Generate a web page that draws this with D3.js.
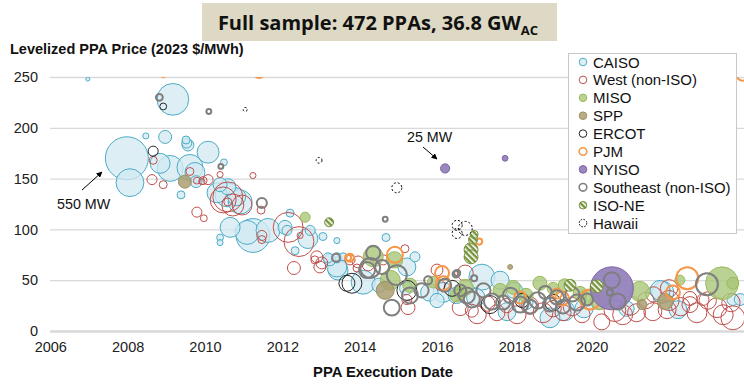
<!DOCTYPE html>
<html><head><meta charset="utf-8">
<script src="https://cdn.jsdelivr.net/npm/d3@7"></script>
<style>body{margin:0;background:#fff}svg{display:block}text{font-family:"Liberation Sans",Arial,sans-serif}</style>
</head><body><svg id="c" width="744" height="392"></svg>
<script>
// [execution date (decimal year), levelized price (2023 $/MWh), capacity (MW)]
const caiso = [[2006.97,248,5],[2009.17,228,300],[2008.47,192,11],[2008.97,191,50],[2009.53,185,30],[2009.56,183,42],[2009.51,188,19],[2010.08,176,143],[2007.98,170,550],[2008.06,146,230],[2009.10,160,200],[2008.84,165,118],[2009.61,161,200],[2009.74,156,118],[2009.77,147,42],[2009.38,134,19],[2010.49,166,14],[2010.39,144,58],[2010.59,142,76],[2010.57,134,170],[2010.82,132,96],[2010.65,102,118],[2011.09,97,170],[2010.39,92,14],[2010.39,87,11],[2010.31,136,118],[2010.91,127,170],[2011.24,94,340],[2011.63,99,170],[2012.20,116,19],[2012.07,102,58],[2012.12,99,30],[2012.66,91,118],[2012.72,99,30],[2013.05,93,19],[2013.41,89,11],[2012.33,79,19],[2013.18,72,30],[2013.41,72,30],[2013.57,73,19],[2013.44,60,118],[2013.23,70,42],[2013.41,63,118],[2014.09,48,170],[2014.68,92,19],[2015.22,63,96],[2015.43,73,30],[2016.16,38,118],[2017.16,53,200],[2017.63,50,96],[2017.81,19,96],[2018.92,13,118],[2021.77,40,118],[2021.84,38,143],[2022.23,21,96],[2023.65,31,42],[2023.84,31,42],[2019.3,20,120],[2018.3,28,60],[2016.5,35,80],[2016.0,30,60],[2020.9,22,70],[2015.2,42,50],[2015.8,38,90],[2017.0,33,100],[2018.0,40,80],[2019.8,22,100],[2014.5,45,60]];
const westNonIso = [[2008.66,168,19],[2008.63,149,30],[2008.92,144,19],[2009.61,157,19],[2009.79,148,14],[2009.95,148,19],[2010.08,149,30],[2009.92,147,11],[2010.39,154,11],[2011.24,153,11],[2010.47,129,200],[2010.72,124,143],[2010.59,127,19],[2009.79,117,30],[2009.97,111,14],[2010.59,132,266],[2010.96,124,118],[2011.45,119,19],[2011.47,94,30],[2011.47,90,19],[2012.15,102,266],[2012.43,88,266],[2012.46,94,11],[2012.30,62,50],[2012.89,73,42],[2012.97,63,42],[2012.84,70,19],[2013.02,67,42],[2013.75,70,30],[2013.96,68,42],[2013.93,62,19],[2014.22,65,42],[2014.61,70,30],[2015.17,81,19],[2015.22,31,30],[2015.25,23,58],[2016.08,45,30],[2016.0,60,42],[2016.73,57,76],[2016.60,23,76],[2017.04,16,96],[2017.55,18,76],[2018.07,16,96],[2018.74,18,118],[2019.26,18,76],[2019.75,16,76],[2020.26,9,76],[2020.80,16,118],[2021.16,18,96],[2021.58,19,96],[2021.95,21,96],[2022.54,26,76],[2022.72,18,118],[2023.24,23,118],[2023.40,16,118],[2023.65,13,170],[2022.54,32,58],[2022.88,31,42],[2018.4,25,90],[2019.0,22,80],[2019.5,24,100],[2020.6,20,140],[2021.0,25,110],[2021.4,30,80],[2022.0,30,120],[2022.3,24,100],[2023.0,30,90],[2023.6,28,100],[2017.3,27,70],[2017.8,25,60],[2016.9,20,50],[2020.2,28,60],[2022.0,42,90],[2021.6,36,70]];
const miso = [[2012.59,112,30],[2014.35,73,118],[2014.79,50,118],[2016.73,43,76],[2017.63,40,58],[2017.97,43,58],[2018.66,47,58],[2019.0,42,42],[2019.70,37,58],[2021.24,39,118],[2022.28,50,30],[2023.37,47,320],[2023.65,47,42],[2014.9,70,80],[2015.3,45,60],[2016.6,38,60],[2019.86,33,80],[2020.2,30,100],[2016.5,35,50],[2018.3,35,60],[2019.3,45,50],[2015.9,48,40]];
const spp = [[2009.48,147,50],[2014.66,40,96],[2017.89,63,7],[2021.90,29,76],[2021.30,26,30]];
const ercot = [[2008.92,221,14],[2008.66,177,30],[2013.67,47,76],[2013.80,47,118],[2015.22,40,118],[2016.39,42,76],[2017.37,26,96],[2019.0,28,80],[2018.2,30,60]];
const pjm = [[2008.92,254,19],[2011.40,254,30],[2013.70,72,11],[2013.75,72,19],[2014.91,75,76],[2016.13,57,58],[2016.16,47,58],[2017.09,88,11],[2018.15,33,42],[2019.10,37,30],[2019.23,32,58],[2019.96,31,118],[2022.47,52,143],[2022.10,38,58],[2023.9,252,40]];
const nyiso = [[2016.21,160,25],[2017.76,170,10],[2020.52,42,550]];
const southeast = [[2008.82,230,14],[2010.10,216,7],[2010.41,162,7],[2011.47,126,30],[2013.39,72,19],[2014.35,77,58],[2014.27,62,118],[2014.19,60,76],[2014.58,63,58],[2014.96,55,118],[2014.66,110,7],[2014.83,23,76],[2015.30,35,76],[2015.77,50,19],[2016.52,57,11],[2016.77,35,76],[2016.49,56,14],[2016.96,52,11],[2016.60,40,42],[2016.90,31,76],[2017.42,29,76],[2017.71,28,58],[2018.15,26,76],[2018.41,24,58],[2018.92,26,58],[2019.26,24,58],[2019.62,28,76],[2019.88,31,42],[2020.52,50,76],[2020.67,29,76],[2020.47,38,11],[2022.98,46,143],[2017.2,40,60],[2018.8,38,50],[2019.5,36,60],[2015.6,40,60],[2016.2,45,50],[2017.9,35,70],[2018.6,30,80],[2019.1,33,60]];
const isoNe = [[2013.21,107,24],[2016.96,95,19],[2016.93,90,24],[2016.88,80,58],[2016.88,73,58],[2019.44,45,42],[2020.13,44,50]];
const hawaii = [[2011.04,218,5],[2012.95,168,10],[2014.96,141,30],[2016.52,104,30],[2016.73,101,58],[2016.52,96,30]];

const regionNames = ["CAISO","West (non-ISO)","MISO","SPP","ERCOT","PJM","NYISO","Southeast (non-ISO)","ISO-NE","Hawaii"];
const regionData = [caiso, westNonIso, miso, spp, ercot, pjm, nyiso, southeast, isoNe, hawaii];
const xTicks = [2006,2008,2010,2012,2014,2016,2018,2020,2022];
const yTicks = [0,50,100,150,200,250];

const styles = [
  {fill:"#d2eaf2", fo:0.75, stroke:"#4bacc6", sw:1},
  {fill:"none", fo:0, stroke:"#c0504d", sw:1},
  {fill:"#a9c779", fo:0.8, stroke:"#9bbb59", sw:1},
  {fill:"#ac9f72", fo:0.85, stroke:"#9c8f62", sw:1},
  {fill:"none", fo:0, stroke:"#262626", sw:1},
  {fill:"none", fo:0, stroke:"#f79646", sw:2},
  {fill:"#9582bd", fo:0.95, stroke:"#7f64a2", sw:1},
  {fill:"none", fo:0, stroke:"#7f7f7f", sw:2},
  {fill:"url(#stripes)", fo:1, stroke:"#77933c", sw:1},
  {fill:"none", fo:0, stroke:"#000", sw:1, dash:"2,2"}
];

const svg = d3.select("#c");
const defs = svg.append("defs");
const pat = defs.append("pattern").attr("id","stripes").attr("patternUnits","userSpaceOnUse")
  .attr("width",4).attr("height",4).attr("patternTransform","rotate(-45)");
pat.append("rect").attr("width",4).attr("height",4).attr("fill","#77933c");
pat.append("rect").attr("width",1.6).attr("height",4).attr("fill","#fff");
defs.append("clipPath").attr("id","plot").append("rect").attr("x",50).attr("y",77).attr("width",700).attr("height",260);
defs.append("marker").attr("id","arr").attr("viewBox","0 0 10 10").attr("refX",9).attr("refY",5)
  .attr("markerWidth",6).attr("markerHeight",6).attr("orient","auto")
  .append("path").attr("d","M0,0L10,5L0,10z").attr("fill","#000");

const x = d3.scaleLinear().domain([2006,2024]).range([50.3,746.4]);
const y = d3.scaleLinear().domain([0,250]).range([331,77]);
const r = d3.scaleSqrt().domain([0,550]).range([0,21.5]);

// title box
svg.append("rect").attr("x",202).attr("y",3).attr("width",355).attr("height",38).attr("fill","#ddd9c4");
const tt = svg.append("text").attr("x",378).attr("y",30).attr("text-anchor","middle")
  .style("font-family","'Open Sans',sans-serif").style("font-weight","700").style("font-size","20px").attr("fill","#111");
tt.append("tspan").text("Full sample: 472 PPAs, 36.8 GW");
tt.append("tspan").attr("dy",5).style("font-size","13px").text("AC");

svg.append("text").attr("x",10).attr("y",54).style("font-weight","bold").style("font-size","14.5px").attr("fill","#111")
  .text("Levelized PPA Price (2023 $/MWh)");

// grid + axes
const gy = svg.append("g").attr("transform","translate(50,0)")
  .call(d3.axisLeft(y).tickValues(yTicks).tickSize(-700).tickPadding(12));
gy.select(".domain").remove();
gy.selectAll(".tick line").attr("stroke","#d9d9d9").attr("stroke-width",d=>d===0?2.5:1.3);
gy.selectAll(".tick text").style("font-size","14.5px").attr("fill","#222").style("font-family","'Liberation Sans',Arial");

const gx = svg.append("g").attr("transform","translate(0,331)")
  .call(d3.axisBottom(x).tickValues(xTicks).tickFormat(d3.format("d")).tickSize(0).tickPadding(11));
gx.select(".domain").remove();
gx.selectAll(".tick text").style("font-size","14.5px").attr("fill","#222").style("font-family","'Liberation Sans',Arial");

svg.append("text").attr("x",383).attr("y",377).attr("text-anchor","middle").style("font-weight","bold")
  .style("font-size","14.8px").attr("fill","#111").text("PPA Execution Date");

// bubbles
const plot = svg.append("g").attr("clip-path","url(#plot)");
regionData.forEach((data,i)=>{
  const s = styles[i];
  const sorted = data.slice().sort((a,b)=>b[2]-a[2]);
  plot.append("g").selectAll("circle").data(sorted).join("circle")
    .attr("cx",d=>x(d[0])).attr("cy",d=>y(d[1])).attr("r",d=>r(d[2]))
    .attr("fill",s.fill).attr("fill-opacity",s.fo).attr("stroke",s.stroke).attr("stroke-width",s.sw)
    .attr("stroke-dasharray",s.dash||null);
});

// annotations
svg.append("line").attr("x1",82).attr("y1",190).attr("x2",102).attr("y2",172).attr("stroke","#000").attr("stroke-width",1).attr("marker-end","url(#arr)");
svg.append("text").attr("x",57).attr("y",209).style("font-size","14.3px").attr("fill","#111").text("550 MW");
svg.append("line").attr("x1",423).attr("y1",147).attr("x2",437).attr("y2",159).attr("stroke","#000").attr("stroke-width",1).attr("marker-end","url(#arr)");
svg.append("text").attr("x",407).attr("y",142).style("font-size","14.3px").attr("fill","#111").text("25 MW");

// legend
const lg = svg.append("g");
lg.append("rect").attr("x",568.5).attr("y",53.5).attr("width",168).attr("height",180).attr("fill","#fff").attr("stroke","#c8c8c8");
regionNames.forEach((n,i)=>{
  const s = styles[i], cy = 62 + i*17.9;
  lg.append("circle").attr("cx",583).attr("cy",cy).attr("r",3.8)
    .attr("fill",s.fill).attr("fill-opacity",s.fo).attr("stroke",s.stroke).attr("stroke-width",s.sw===2?1.6:1)
    .attr("stroke-dasharray",s.dash?"1.5,1.5":null);
  lg.append("text").attr("x",593).attr("y",cy+5.5).style("font-size","15px").attr("fill","#111").text(n);
});
</script></body></html>
